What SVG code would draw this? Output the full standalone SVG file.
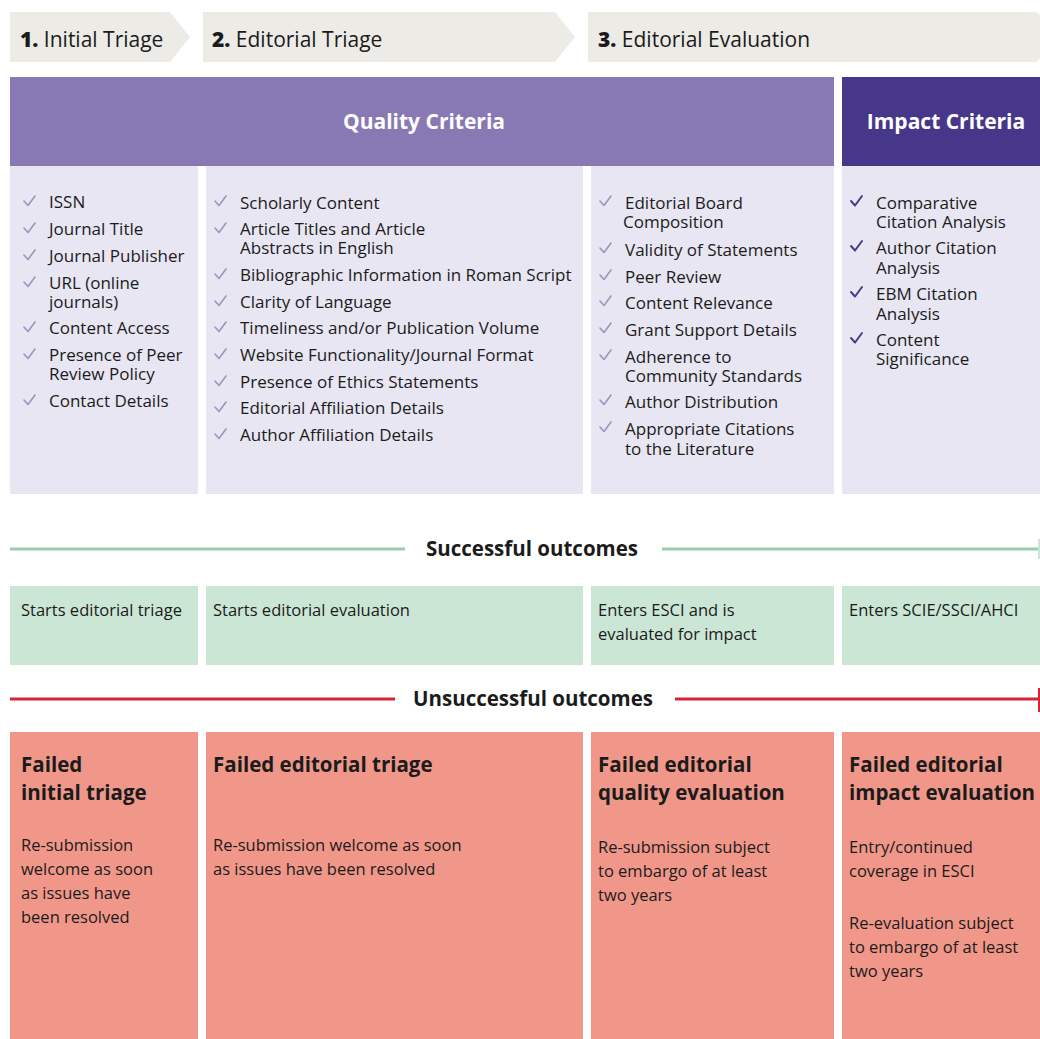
<svg xmlns="http://www.w3.org/2000/svg" width="1040" height="1039" viewBox="0 0 1040 1039">
<defs>
<style>
text{font-family:"Open Sans","Liberation Sans",sans-serif;fill:#1b1b1b}
.hd{font-size:21px}
.hd tspan.n{font-weight:800}
.crit{font-size:21px;font-weight:700;fill:#ffffff}
.it{font-size:17px}
.ck{fill:none;stroke:#9c95bd;stroke-width:1.6;stroke-linecap:round;stroke-linejoin:round}
.ck2{fill:none;stroke:#4a3a8a;stroke-width:2;stroke-linecap:round;stroke-linejoin:round}
.col{fill:#e8e6f2}
.gbox{fill:#cbe6d5}
.rbox{fill:#f0978a}
.sec{font-size:20.5px;font-weight:700;text-anchor:middle}
.g{font-size:16.5px}
.rt{font-size:20.5px;font-weight:700}
.rb{font-size:16.5px}
.chev{fill:#ecebe6}
</style>
<path id="ck" d="M0,0 L4,4.5 L11,-5"/>
</defs>

<g id="stage1">
<path class="chev" d="M10,12 H170 L190,37 L170,62 H10 Z"/>
<text class="hd" x="20" y="47"><tspan class="n">1.</tspan> Initial Triage</text>
</g>
<g id="stage2">
<path class="chev" d="M203,12 H555 L575,37 L555,62 H203 Z"/>
<text class="hd" x="212" y="47"><tspan class="n">2.</tspan> Editorial Triage</text>
</g>
<g id="stage3">
<path class="chev" d="M588,12 H1034 Q1040,12 1040,18 V56 Q1040,62 1034,62 H588 Z"/>
<text class="hd" x="598" y="47"><tspan class="n">3.</tspan> Editorial Evaluation</text>
</g>

<g id="quality-header">
<rect x="10" y="77" width="824" height="89" fill="#8879b5"/>
<text class="crit" x="424" y="129" text-anchor="middle">Quality Criteria</text>
</g>
<g id="impact-header">
<rect x="842" y="77" width="198" height="89" fill="#47378a"/>
<text class="crit" x="946" y="129" text-anchor="middle">Impact Criteria</text>
</g>

<g id="criteria-col1">
<rect class="col" x="10" y="166" width="188" height="328"/>
<g class="ck">
<use href="#ck" x="24" y="201"/><use href="#ck" x="24" y="228"/><use href="#ck" x="24" y="255"/><use href="#ck" x="24" y="282"/><use href="#ck" x="24" y="327"/><use href="#ck" x="24" y="354"/><use href="#ck" x="24" y="400"/>
</g>
<text class="it" x="49" y="208">ISSN</text>
<text class="it" x="49" y="235">Journal Title</text>
<text class="it" x="49" y="262">Journal Publisher</text>
<text class="it" x="49" y="289">URL (online</text>
<text class="it" x="49" y="308">journals)</text>
<text class="it" x="49" y="334">Content Access</text>
<text class="it" x="49" y="361">Presence of Peer</text>
<text class="it" x="49" y="380">Review Policy</text>
<text class="it" x="49" y="407">Contact Details</text>
</g>

<g id="criteria-col2">
<rect class="col" x="206" y="166" width="377" height="328"/>
<g class="ck">
<use href="#ck" x="215" y="201"/><use href="#ck" x="215" y="228"/><use href="#ck" x="215" y="274"/><use href="#ck" x="215" y="301"/><use href="#ck" x="215" y="327"/><use href="#ck" x="215" y="354"/><use href="#ck" x="215" y="381"/><use href="#ck" x="215" y="407"/><use href="#ck" x="215" y="434"/>
</g>
<text class="it" x="240" y="209">Scholarly Content</text>
<text class="it" x="240" y="235">Article Titles and Article</text>
<text class="it" x="240" y="254">Abstracts in English</text>
<text class="it" x="240" y="281">Bibliographic Information in Roman Script</text>
<text class="it" x="240" y="308">Clarity of Language</text>
<text class="it" x="240" y="334">Timeliness and/or Publication Volume</text>
<text class="it" x="240" y="361">Website Functionality/Journal Format</text>
<text class="it" x="240" y="388">Presence of Ethics Statements</text>
<text class="it" x="240" y="414">Editorial Affiliation Details</text>
<text class="it" x="240" y="441">Author Affiliation Details</text>
</g>

<g id="criteria-col3">
<rect class="col" x="591" y="166" width="243" height="328"/>
<g class="ck">
<use href="#ck" x="600" y="201"/><use href="#ck" x="600" y="248"/><use href="#ck" x="600" y="275"/><use href="#ck" x="600" y="301"/><use href="#ck" x="600" y="328"/><use href="#ck" x="600" y="355"/><use href="#ck" x="600" y="400"/><use href="#ck" x="600" y="427"/>
</g>
<text class="it" x="625" y="209">Editorial Board</text>
<text class="it" x="623" y="228">Composition</text>
<text class="it" x="625" y="256">Validity of Statements</text>
<text class="it" x="625" y="283">Peer Review</text>
<text class="it" x="625" y="309">Content Relevance</text>
<text class="it" x="625" y="336">Grant Support Details</text>
<text class="it" x="625" y="363">Adherence to</text>
<text class="it" x="625" y="382">Community Standards</text>
<text class="it" x="625" y="408">Author Distribution</text>
<text class="it" x="625" y="435">Appropriate Citations</text>
<text class="it" x="625" y="455">to the Literature</text>
</g>

<g id="criteria-col4">
<rect class="col" x="842" y="166" width="198" height="328"/>
<g class="ck2">
<use href="#ck" x="851" y="201"/><use href="#ck" x="851" y="246"/><use href="#ck" x="851" y="292"/><use href="#ck" x="851" y="338"/>
</g>
<text class="it" x="876" y="209">Comparative</text>
<text class="it" x="876" y="228">Citation Analysis</text>
<text class="it" x="876" y="254">Author Citation</text>
<text class="it" x="876" y="274">Analysis</text>
<text class="it" x="876" y="300">EBM Citation</text>
<text class="it" x="876" y="320">Analysis</text>
<text class="it" x="876" y="346">Content</text>
<text class="it" x="876" y="365">Significance</text>
</g>

<g id="connectors">
<path d="M10,549 H405 M662,549 H1040" stroke="#97cfa8" stroke-width="3" fill="none"/>
<path d="M1039,539 V559" stroke="#c8e6d2" stroke-width="2" fill="none"/>
<path d="M10,699 H395 M675,699 H1040" stroke="#d9223a" stroke-width="3" fill="none"/>
<path d="M1039,688 V712" stroke="#d9223a" stroke-width="2" fill="none"/>
</g>
<g id="successful-label">
<text class="sec" x="532" y="556">Successful outcomes</text>
</g>
<g id="unsuccessful-label">
<text class="sec" x="533" y="706">Unsuccessful outcomes</text>
</g>

<g id="success1">
<rect class="gbox" x="10" y="586" width="188" height="79"/>
<text class="g" x="21" y="616">Starts editorial triage</text>
</g>
<g id="success2">
<rect class="gbox" x="206" y="586" width="377" height="79"/>
<text class="g" x="213" y="616">Starts editorial evaluation</text>
</g>
<g id="success3">
<rect class="gbox" x="591" y="586" width="243" height="79"/>
<text class="g" x="598" y="616">Enters ESCI and is</text>
<text class="g" x="598" y="640">evaluated for impact</text>
</g>
<g id="success4">
<rect class="gbox" x="842" y="586" width="198" height="79"/>
<text class="g" x="849" y="616">Enters SCIE/SSCI/AHCI</text>
</g>

<g id="fail1">
<rect class="rbox" x="10" y="732" width="188" height="307"/>
<text class="rt" x="21" y="772">Failed</text>
<text class="rt" x="21" y="800">initial triage</text>
<text class="rb" x="21" y="851">Re-submission</text>
<text class="rb" x="21" y="875">welcome as soon</text>
<text class="rb" x="21" y="899">as issues have</text>
<text class="rb" x="21" y="923">been resolved</text>
</g>
<g id="fail2">
<rect class="rbox" x="206" y="732" width="377" height="307"/>
<text class="rt" x="213" y="772">Failed editorial triage</text>
<text class="rb" x="213" y="851">Re-submission welcome as soon</text>
<text class="rb" x="213" y="875">as issues have been resolved</text>
</g>
<g id="fail3">
<rect class="rbox" x="591" y="732" width="243" height="307"/>
<text class="rt" x="598" y="772">Failed editorial</text>
<text class="rt" x="598" y="800">quality evaluation</text>
<text class="rb" x="598" y="853">Re-submission subject</text>
<text class="rb" x="598" y="877">to embargo of at least</text>
<text class="rb" x="598" y="901">two years</text>
</g>
<g id="fail4">
<rect class="rbox" x="842" y="732" width="198" height="307"/>
<text class="rt" x="849" y="772">Failed editorial</text>
<text class="rt" x="849" y="800">impact evaluation</text>
<text class="rb" x="849" y="853">Entry/continued</text>
<text class="rb" x="849" y="877">coverage in ESCI</text>
<text class="rb" x="849" y="929">Re-evaluation subject</text>
<text class="rb" x="849" y="953">to embargo of at least</text>
<text class="rb" x="849" y="977">two years</text>
</g>
</svg>
